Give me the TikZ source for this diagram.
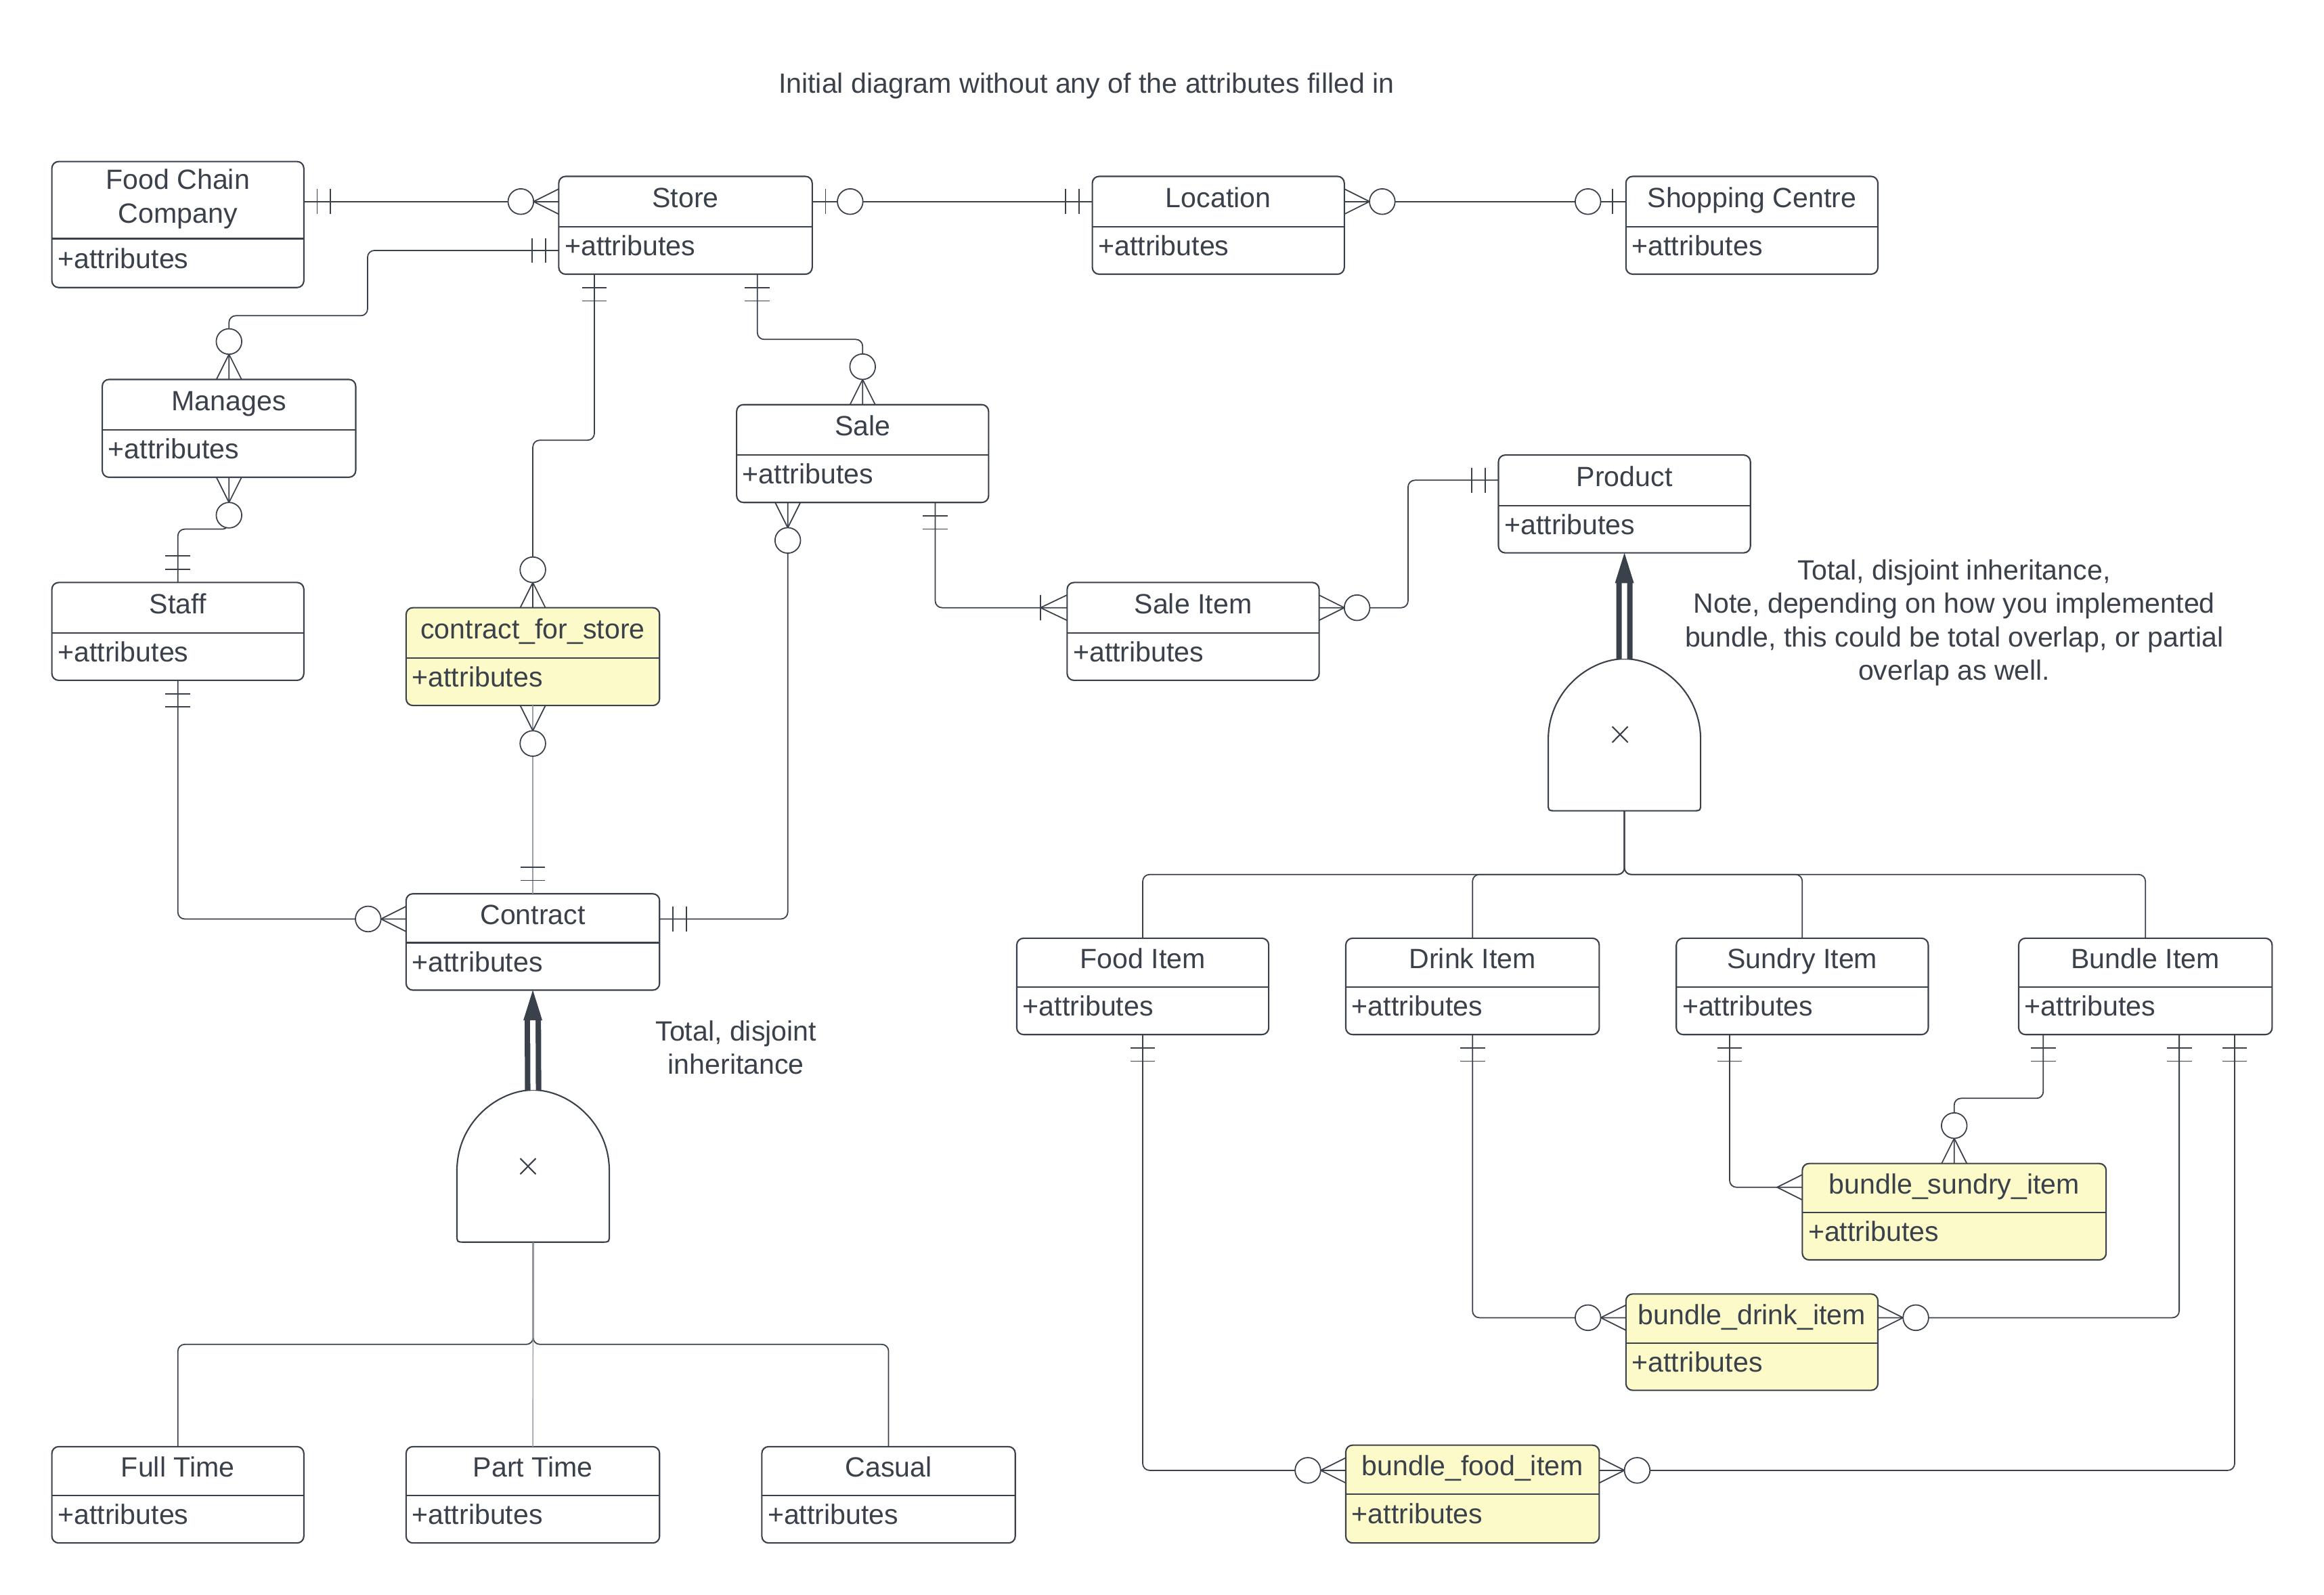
\documentclass[tikz,border=0pt]{standalone}
\usepackage{fontspec}
\setmainfont{Liberation Sans}
\usetikzlibrary{fit,calc}
\definecolor{ink}{HTML}{3A414A}
\definecolor{pale}{HTML}{FBFAC8}
\definecolor{lightline}{HTML}{9AA0A8}

\tikzset{
  x=0.021894cm, y=-0.021894cm,
  entbox/.style={draw=ink, line width=0.6pt, rounded corners=0.1cm, inner sep=0pt, outer sep=0pt},
  divline/.style={draw=ink, line width=0.6pt},
  lbl/.style={inner sep=0pt, outer sep=0pt, text=ink, font=\fontsize{11.7pt}{14.1pt}\selectfont},
  conn/.style={draw=ink, line width=0.5pt, rounded corners=0.1cm},
  lightconn/.style={draw=lightline, line width=0.4pt},
  mk/.style={draw=ink, line width=0.5pt},
  inh/.style={draw=ink, line width=2.3pt, double=white, double distance=0.08cm},
  pics/oneonly/.style={code={\draw[mk] (9,-8.4)--(9,8.4) (18,-8.4)--(18,8.4);}},
  pics/zeromany/.style={code={\draw[mk] (0,8.5)--(17,0)--(0,-8.5); \draw[mk,fill=white] (25.6,0) circle[radius=8.6];}},
  pics/zeroone/.style={code={\draw[mk] (9,-8.4)--(9,8.4); \draw[mk,fill=white] (25.6,0) circle[radius=8.6];}},
  pics/onemany/.style={code={\draw[mk] (0,8.6)--(18,0)--(0,-8.6) (18,-8.6)--(18,8.6);}},
  pics/manyonly/.style={code={\draw[mk] (0,8.5)--(17,0)--(0,-8.5);}},
}

% name, x1, y1, x2, y2, ydiv, title, fill
\newcommand\entity[8]{%
  \node[entbox, fill=#8, fit={(#2,#3) (#4,#5)}] (#1) {};
  \draw[divline] (#1.west |- 0,#6) -- (#1.east |- 0,#6);
  \node[lbl, anchor=base] (#1-t) at ({(#2+#4)/2},{(#3+#6)/2+4}) {#7};
  \node[lbl, anchor=base west] (#1-a) at ({#2+4},{(#6+#5)/2+3.5}) {+attributes};
}

\begin{document}
\begin{tikzpicture}
\fill[white] (0,0) rectangle (1568,1076);
\useasboundingbox (0,0) rectangle (1568,1076);

% title
\node[lbl, anchor=base] (title) at (733,63) {Initial diagram without any of the attributes filled in};

% entities
\entity{fcc}{35}{109}{205}{194}{161}{}{white}
\node[lbl, anchor=base] (fcc-t1) at (120,127.5) {Food Chain};
\node[lbl, anchor=base] (fcc-t2) at (120,150.5) {Company};
\entity{store}{377}{119}{548}{185}{153}{Store}{white}
\entity{loc}{737}{119}{907}{185}{153}{Location}{white}
\entity{shop}{1097}{119}{1267}{185}{153}{Shopping Centre}{white}
\entity{manages}{69}{256}{240}{322}{290}{Manages}{white}
\entity{sale}{497}{273}{667}{339}{307}{Sale}{white}
\entity{product}{1011}{307}{1181}{373}{341}{Product}{white}
\entity{staff}{35}{393}{205}{459}{427}{Staff}{white}
\entity{cfs}{274}{410}{445}{476}{444}{contract\_for\_store}{pale}
\entity{saleitem}{720}{393}{890}{459}{427}{Sale Item}{white}
\entity{contract}{274}{603}{445}{668}{636}{Contract}{white}
\entity{food}{686}{633}{856}{698}{666}{Food Item}{white}
\entity{drink}{908}{633}{1079}{698}{666}{Drink Item}{white}
\entity{sundry}{1131}{633}{1301}{698}{666}{Sundry Item}{white}
\entity{bundle}{1362}{633}{1533}{698}{666}{Bundle Item}{white}
\entity{bsi}{1216}{785}{1421}{850}{818}{bundle\_sundry\_item}{pale}
\entity{bdi}{1097}{873}{1267}{938}{906}{bundle\_drink\_item}{pale}
\entity{bfi}{908}{975}{1079}{1041}{1008}{bundle\_food\_item}{pale}
\entity{ft}{35}{976}{205}{1041}{1009}{Full Time}{white}
\entity{pt}{274}{976}{445}{1041}{1009}{Part Time}{white}
\entity{casual}{514}{976}{685}{1041}{1009}{Casual}{white}

% gates
\node[inner sep=0pt, outer sep=0pt, fit={(308.3,735.4) (411.1,838)}] (gate1) {};
\draw[divline, fill=white] (308.3,790) .. controls (308.3,757) and (336,735.4) .. (359.7,735.4)
  .. controls (383.4,735.4) and (411.1,757) .. (411.1,790) -- (411.1,833)
  .. controls (411.1,838) .. (406.1,838) -- (313.3,838) .. controls (308.3,838) .. (308.3,833) -- cycle;
\draw[ink, line width=0.6pt] (351,781.5) -- (361.5,792.2) (351,792.2) -- (361.5,781.5);

\node[inner sep=0pt, outer sep=0pt, fit={(1044.6,444.5) (1147.4,547)}] (gate2) {};
\draw[divline, fill=white] (1044.6,499.1) .. controls (1044.6,466.1) and (1072.3,444.5) .. (1096,444.5)
  .. controls (1119.7,444.5) and (1147.4,466.1) .. (1147.4,499.1) -- (1147.4,542)
  .. controls (1147.4,547) .. (1142.4,547) -- (1049.6,547) .. controls (1044.6,547) .. (1044.6,542) -- cycle;
\draw[ink, line width=0.6pt] (1087.8,490.2) -- (1098.3,500.9) (1087.8,500.9) -- (1098.3,490.2);

% inheritance arrows
\draw[inh] (gate1.north) -- ($(contract.south)+(0,19.5)$);
\fill[ink] (contract.south) -- ++(-6.4,20.4) -- ++(12.8,0) -- cycle;
\draw[inh] (gate2.north) -- ($(product.south)+(0,19.5)$);
\fill[ink] (product.south) -- ++(-6.4,20.4) -- ++(12.8,0) -- cycle;

% gate connectors
\draw[conn] (gate1.south) |- (ft.north |- 0,907) -- (ft.north);
\draw[conn] (gate1.south) |- (casual.north |- 0,907) -- (casual.north);
\draw[lightconn] (gate1.south) -- (pt.north);
\draw[conn] (gate2.south) |- (food.north |- 0,590) -- (food.north);
\draw[conn] (gate2.south) |- (drink.north |- 0,590) -- (drink.north);
\draw[conn] (gate2.south) |- (sundry.north |- 0,590) -- (sundry.north);
\draw[conn] (gate2.south) |- (bundle.north |- 0,590) -- (bundle.north);

% relationships
\draw[conn] (fcc.east |- 0,136) -- (store.west |- 0,136);
\draw[conn] (store.east |- 0,136) -- (loc.west |- 0,136);
\draw[conn] (loc.east |- 0,136) -- (shop.west |- 0,136);
\draw[conn] (store.west |- 0,169) -| (248,213) -| (manages.north);
\draw[conn] (manages.south) |- (120,357) -- (staff.north);
\draw[conn] (store.south -| 401,0) |- (cfs.north |- 0,297) -- (cfs.north);
\draw[conn] (store.south -| 511,0) |- (sale.north |- 0,229) -- (sale.north);
\draw[conn] (sale.south -| 531.5,0) |- (contract.east |- 0,620);
\draw[conn] (sale.south -| 631,0) |- (saleitem.west |- 0,410);
\draw[conn] (saleitem.east |- 0,410) -| (950,324) -- (product.west |- 0,324);
\draw[lightconn] (cfs.south) -- (contract.north);
\draw[conn] (staff.south) |- (contract.west |- 0,620);
\draw[conn] (food.south) |- (bfi.west |- 0,992);
\draw[conn] (drink.south) |- (bdi.west |- 0,889);
\draw[conn] (sundry.south -| 1167,0) |- (bsi.west |- 0,801);
\draw[conn] (bundle.south -| 1378.6,0) |- (bsi.north |- 0,741) -- (bsi.north);
\draw[conn] (bundle.south -| 1470.3,0) |- (bdi.east |- 0,889);
\draw[conn] (bundle.south -| 1507.7,0) |- (bfi.east |- 0,992);

% cardinality marks
\path (fcc.east |- 0,136) pic{oneonly};
\path (store.west |- 0,136) pic[rotate=180]{zeromany};
\path (store.east |- 0,136) pic{zeroone};
\path (loc.west |- 0,136) pic[rotate=180]{oneonly};
\path (loc.east |- 0,136) pic{zeromany};
\path (shop.west |- 0,136) pic[rotate=180]{zeroone};
\path (store.west |- 0,169) pic[rotate=180]{oneonly};
\path (manages.north) pic[rotate=90]{zeromany};
\path (manages.south) pic[rotate=270]{zeromany};
\path (staff.north) pic[rotate=90]{oneonly};
\path (store.south -| 401,0) pic[rotate=270]{oneonly};
\path (cfs.north) pic[rotate=90]{zeromany};
\path (store.south -| 511,0) pic[rotate=270]{oneonly};
\path (sale.north) pic[rotate=90]{zeromany};
\path (sale.south -| 531.5,0) pic[rotate=270]{zeromany};
\path (contract.east |- 0,620) pic{oneonly};
\path (sale.south -| 631,0) pic[rotate=270]{oneonly};
\path (saleitem.west |- 0,410) pic[rotate=180]{onemany};
\path (saleitem.east |- 0,410) pic{zeromany};
\path (product.west |- 0,324) pic[rotate=180]{oneonly};
\path (cfs.south) pic[rotate=270]{zeromany};
\path (contract.north) pic[rotate=90]{oneonly};
\path (staff.south) pic[rotate=270]{oneonly};
\path (contract.west |- 0,620) pic[rotate=180]{zeromany};
\path (food.south) pic[rotate=270]{oneonly};
\path (bfi.west |- 0,992) pic[rotate=180]{zeromany};
\path (drink.south) pic[rotate=270]{oneonly};
\path (bdi.west |- 0,889) pic[rotate=180]{zeromany};
\path (sundry.south -| 1167,0) pic[rotate=270]{oneonly};
\path (bsi.west |- 0,801) pic[rotate=180]{manyonly};
\path (bundle.south -| 1378.6,0) pic[rotate=270]{oneonly};
\path (bsi.north) pic[rotate=90]{zeromany};
\path (bundle.south -| 1470.3,0) pic[rotate=270]{oneonly};
\path (bdi.east |- 0,889) pic{zeromany};
\path (bundle.south -| 1507.7,0) pic[rotate=270]{oneonly};
\path (bfi.east |- 0,992) pic{zeromany};

% notes
\node[lbl, anchor=base] (inh1a) at (496.6,702.2) {Total, disjoint};
\node[lbl, anchor=base] (inh1b) at (496.6,724.7) {inheritance};
\node[lbl, anchor=base] (note1) at (1318.5,391) {Total, disjoint inheritance,};
\node[lbl, anchor=base] (note2) at (1318.5,413.6) {Note, depending on how you implemented};
\node[lbl, anchor=base] (note3) at (1318.5,436.2) {bundle, this could be total overlap, or partial};
\node[lbl, anchor=base] (note4) at (1318.5,458.8) {overlap as well.};
\end{tikzpicture}
\end{document}
